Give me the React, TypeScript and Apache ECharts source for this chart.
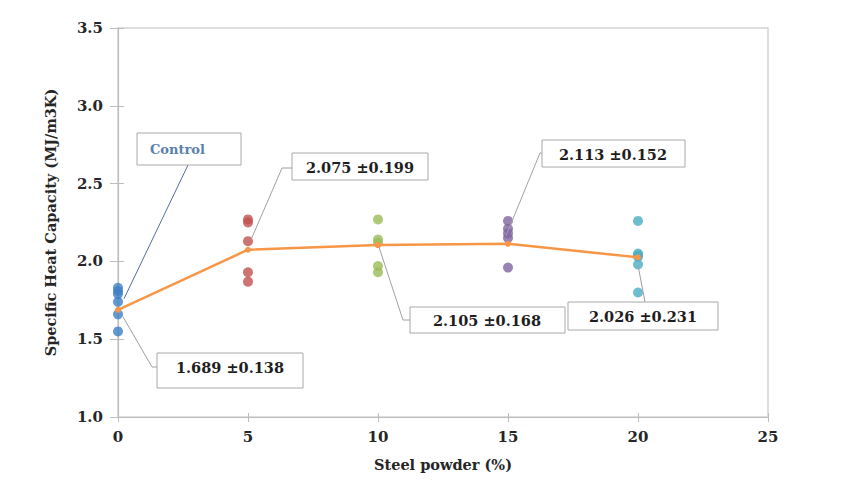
import React, { useEffect, useRef } from "react";
import * as echarts from "echarts";

// ---- data ----
const xTicks = [0, 5, 10, 15, 20, 25];
const yTicks = [1.0, 1.5, 2.0, 2.5, 3.0, 3.5];
const groupX = [0, 5, 10, 15, 20];
const steel0 = [1.83, 1.81, 1.79, 1.74, 1.66, 1.55];
const steel5 = [2.27, 2.25, 2.13, 1.93, 1.87];
const steel10 = [2.27, 2.14, 2.12, 1.97, 1.93];
const steel15 = [2.26, 2.21, 2.18, 2.15, 1.96];
const steel20 = [2.26, 2.05, 2.04, 2.03, 1.98, 1.8];
const groups = [steel0, steel5, steel10, steel15, steel20];
const means = [1.689, 2.075, 2.105, 2.113, 2.026];
const sds = [0.138, 0.199, 0.168, 0.152, 0.231];
const controlLabel = "Control";
const controlAnchor = 1.76;
const xTitle = "Steel powder (%)";
const yTitle = "Specific Heat Capacity (MJ/m3K)";

const groupColors = ["#3f7fc6", "#c0504d", "#9bbb59", "#8064a2", "#4bacc6"];
const FONT = '"DejaVu Serif", "Liberation Serif", serif';

// annotation layout (pixels): box, text centre, leader start offset, elbow
const annLayout = [
  { box: [157, 353, 146, 35], text: [230, 367], off: [5, 7], elbow: [152, 367], end: [157, 367] },
  { box: [292, 153, 136, 27], text: [360, 167], off: [3, -10], elbow: [282, 168], end: [292, 168] },
  { box: [410, 307, 155, 26], text: [487, 320], off: [1, 2], elbow: [403, 320], end: [410, 320] },
  { box: [542, 140, 143, 27], text: [613, 154], off: [-2, -8], elbow: [540, 153], end: [542, 153] },
  { box: [568, 302, 150, 28], text: [643, 316], off: [0, 8], elbow: [645, 302], end: [645, 302] },
];

export default function App() {
  const ref = useRef<HTMLDivElement>(null);
  useEffect(() => {
    if (!ref.current) return;
    const chart = echarts.init(ref.current, undefined, { renderer: "svg" });
    const axisGray = "#bdbdbd";
    const labelStyle = { color: "#262626", fontFamily: FONT, fontWeight: "bold", fontSize: 15 };
    const scatterSeries = groups.map((vals, i) => ({
      type: "scatter",
      data: vals.map((v) => [groupX[i], v]),
      symbol: "circle",
      symbolSize: 10,
      itemStyle: { color: groupColors[i] },
      z: 2,
    }));
    chart.setOption({
      animation: false,
      grid: { left: 118, right: 81, top: 28, bottom: 76, show: true, borderColor: "#d4d4d4", borderWidth: 1.5 },
      xAxis: [
        {
          type: "value", min: xTicks[0], max: xTicks[xTicks.length - 1], interval: 5, position: "bottom",
          axisLine: { show: true, lineStyle: { color: axisGray, width: 1.2 } },
          axisTick: { show: true, inside: false, length: 5, lineStyle: { color: axisGray } },
          splitLine: { show: false },
          axisLabel: { ...labelStyle, margin: 12 },
          name: xTitle, nameLocation: "middle", nameGap: 40,
          nameTextStyle: { color: "#262626", fontFamily: FONT, fontWeight: "bold", fontSize: 14.5 },
        },
        {
          type: "value", min: xTicks[0], max: xTicks[xTicks.length - 1], interval: 5, position: "bottom",
          axisLine: { show: false }, axisLabel: { show: false }, splitLine: { show: false },
          axisTick: { show: true, inside: true, length: 4, lineStyle: { color: axisGray } },
        },
      ],
      yAxis: [
        {
          type: "value", min: yTicks[0], max: yTicks[yTicks.length - 1], interval: 0.5, position: "left",
          axisLine: { show: true, lineStyle: { color: axisGray, width: 1.2 } },
          axisTick: { show: true, inside: false, length: 8, lineStyle: { color: axisGray } },
          splitLine: { show: false },
          axisLabel: { ...labelStyle, margin: 15, formatter: (v: number) => v.toFixed(1) },
          name: yTitle, nameLocation: "middle", nameGap: 60, nameRotate: 90,
          nameTextStyle: { color: "#262626", fontFamily: FONT, fontWeight: "bold", fontSize: 14.5 },
        },
        {
          type: "value", min: yTicks[0], max: yTicks[yTicks.length - 1], interval: 0.5, position: "left",
          axisLine: { show: false }, axisLabel: { show: false }, splitLine: { show: false },
          axisTick: { show: true, inside: true, length: 6, lineStyle: { color: axisGray } },
        },
      ],
      series: [
        ...scatterSeries,
        {
          type: "line",
          data: groupX.map((x, i) => [x, means[i]]),
          symbol: "circle",
          symbolSize: 6,
          lineStyle: { color: "#f79646", width: 2.5 },
          itemStyle: { color: "#f79646" },
          z: 3,
        },
      ],
    });

    const px = (x: number, y: number) => chart.convertToPixel({ gridIndex: 0 }, [x, y]) as number[];
    const graphics: any[] = [];
    const boxStroke = "#a8a8a8";
    const leader = "#a0a0a0";
    annLayout.forEach((a, i) => {
      const p = px(groupX[i], means[i]);
      const start = [p[0] + a.off[0], p[1] + a.off[1]];
      graphics.push({
        type: "polyline", z: 10,
        shape: { points: [start, a.elbow, a.end] },
        style: { stroke: leader, lineWidth: 1, fill: null },
      });
      graphics.push({
        type: "rect", z: 11,
        shape: { x: a.box[0], y: a.box[1], width: a.box[2], height: a.box[3] },
        style: { fill: "#ffffff", stroke: boxStroke, lineWidth: 1 },
      });
      graphics.push({
        type: "text", z: 12,
        style: {
          text: `${means[i].toFixed(3)} \u00b1${sds[i].toFixed(3)}`,
          x: a.text[0], y: a.text[1],
          fontFamily: FONT, fontWeight: "bold", fontSize: 14.5,
          fill: "#1e1e1e", align: "center", verticalAlign: "middle",
          textAlign: "center", textVerticalAlign: "middle",
        },
      });
    });
    // Control callout
    const cp = px(0, controlAnchor);
    graphics.push({
      type: "line", z: 10,
      shape: { x1: 188, y1: 165, x2: cp[0] + 6, y2: cp[1] },
      style: { stroke: "#4f6f9f", lineWidth: 1 },
    });
    graphics.push({
      type: "rect", z: 11,
      shape: { x: 137, y: 133, width: 104, height: 32 },
      style: { fill: "#ffffff", stroke: boxStroke, lineWidth: 1 },
    });
    graphics.push({
      type: "text", z: 12,
      style: {
        text: controlLabel, x: 150, y: 149,
        fontFamily: FONT, fontWeight: "bold", fontSize: 13,
        fill: "#5b80ad", align: "left", verticalAlign: "middle",
        textAlign: "left", textVerticalAlign: "middle",
      },
    });
    chart.setOption({ graphic: graphics });
    return () => chart.dispose();
  }, []);
  return <div ref={ref} style={{ width: 849, height: 493, position: "absolute", left: 0, top: 0 }} />;
}
